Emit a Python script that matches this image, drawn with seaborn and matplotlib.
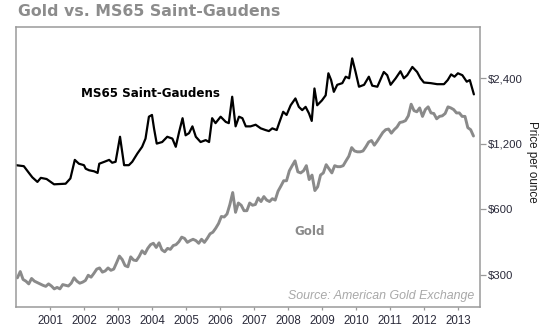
import matplotlib
matplotlib.use("Agg")
import matplotlib.pyplot as plt
import matplotlib.ticker as mticker
import numpy as np
import pandas as pd
import seaborn as sns

# MS65 Saint-Gaudens double eagle prices (decimal year, USD)
ms_year = [2000.00, 2000.23, 2000.38, 2000.48, 2000.63, 2000.73, 2000.90, 2001.12, 2001.46, 2001.60,
           2001.73, 2001.85, 2002.00, 2002.05, 2002.15, 2002.30, 2002.40, 2002.45, 2002.60, 2002.74,
           2002.83, 2002.93, 2003.06, 2003.18, 2003.32, 2003.42, 2003.57, 2003.71, 2003.81, 2003.91,
           2004.00, 2004.06, 2004.14, 2004.30, 2004.45, 2004.60, 2004.70, 2004.80, 2004.90, 2004.99,
           2005.09, 2005.19, 2005.29, 2005.43, 2005.58, 2005.68, 2005.77, 2005.87, 2006.02, 2006.17,
           2006.26, 2006.36, 2006.46, 2006.56, 2006.66, 2006.76, 2006.90, 2007.05, 2007.20, 2007.34,
           2007.44, 2007.54, 2007.67, 2007.74, 2007.86, 2007.96, 2008.08, 2008.22, 2008.32, 2008.42,
           2008.52, 2008.62, 2008.70, 2008.78, 2008.86, 2009.00, 2009.11, 2009.19, 2009.27, 2009.35,
           2009.45, 2009.60, 2009.70, 2009.80, 2009.89, 2009.99, 2010.09, 2010.24, 2010.38, 2010.48,
           2010.63, 2010.82, 2010.92, 2011.02, 2011.17, 2011.31, 2011.41, 2011.51, 2011.66, 2011.80,
           2011.90, 2012.00, 2012.20, 2012.39, 2012.59, 2012.70, 2012.80, 2012.90, 2013.00, 2013.13,
           2013.26, 2013.35, 2013.47]
ms_price = [955, 945, 880, 840, 800, 835, 825, 780, 785, 830,
            1010, 970, 955, 920, 905, 895, 880, 970, 990, 1010,
            980, 990, 1290, 955, 955, 990, 1080, 1160, 1265, 1595,
            1625, 1410, 1200, 1220, 1290, 1265, 1160, 1360, 1570, 1310,
            1340, 1440, 1290, 1220, 1245, 1220, 1570, 1490, 1595, 1510,
            1490, 1970, 1440, 1595, 1570, 1440, 1440, 1465, 1410, 1385,
            1370, 1410, 1385, 1490, 1680, 1625, 1800, 1935, 1770, 1710,
            1770, 1650, 1525, 2150, 1800, 1895, 2000, 2525, 2350, 2075,
            2235, 2275, 2435, 2395, 2955, 2560, 2190, 2235, 2435, 2215,
            2190, 2560, 2475, 2235, 2395, 2580, 2395, 2475, 2700, 2560,
            2395, 2290, 2275, 2250, 2250, 2350, 2495, 2435, 2525, 2475,
            2310, 2350, 2020]

# Monthly gold price, January 2000 through June 2013 (USD per ounce)
gold_first_year = 2000
gold_price = [
    290, 310, 285, 280, 272, 288, 280, 276, 272, 268, 265, 272,
    266, 258, 262, 258, 270, 268, 266, 274, 290, 280, 274, 277,
    282, 298, 292, 304, 318, 322, 308, 312, 322, 314, 318, 340,
    365, 352, 330, 326, 362, 350, 348, 364, 386, 374, 396, 412,
    418, 400, 420, 390, 382, 396, 392, 408, 412, 425, 446, 440,
    422, 430, 436, 430, 418, 436, 422, 440, 462, 470, 490, 515,
    555, 552, 570, 630, 715, 580, 640, 625, 590, 590, 640, 625,
    630, 675, 650, 685, 660, 650, 670, 660, 725, 765, 810, 810,
    900, 950, 1000, 890, 880, 900, 950, 820, 860, 730, 760, 860,
    880, 960, 920, 880, 950, 940, 940, 950, 1000, 1050, 1150, 1110,
    1100, 1100, 1110, 1160, 1220, 1240, 1180, 1230, 1290, 1350, 1390, 1400,
    1340, 1390, 1430, 1500, 1510, 1530, 1610, 1820, 1700, 1680, 1750, 1600,
    1720, 1770, 1660, 1650, 1560, 1600, 1610, 1650, 1770, 1750, 1720, 1660,
    1660, 1600, 1600, 1420, 1390, 1300,
]

year_ticks = list(range(2001, 2014))
price_ticks = [300, 600, 1200, 2400]
price_tick_labels = ["$300", "$600", "$1,200", "$2,400"]

ms_df = pd.DataFrame({"year": ms_year, "price": ms_price})
gold_df = pd.DataFrame({
    "year": gold_first_year + (np.arange(len(gold_price)) + 0.5) / 12.0,
    "price": gold_price,
})

sns.set_theme(style="white")
plt.rcParams["font.family"] = ["Liberation Sans", "DejaVu Sans"]

fig = plt.figure(figsize=(5.44, 3.32), dpi=100)
ax = fig.add_axes([16 / 544, 1 - 307 / 332, (480 - 16) / 544, (307 - 27) / 332])

sns.lineplot(data=gold_df, x="year", y="price", ax=ax, color="#8a8a8a", linewidth=2.1)
sns.lineplot(data=ms_df, x="year", y="price", ax=ax, color="#000000", linewidth=1.6)

ax.set_yscale("log")
ax.set_ylim(213, 4120)
ax.set_xlim(2000.0, 2013.65)

ax.yaxis.tick_right()
ax.yaxis.set_major_locator(mticker.FixedLocator(price_ticks))
ax.yaxis.set_major_formatter(mticker.FixedFormatter(price_tick_labels))
ax.yaxis.set_minor_locator(mticker.NullLocator())
ax.set_xticks(year_ticks)
ax.set_xticklabels([str(y) for y in year_ticks])

ax.tick_params(axis="y", which="major", direction="out", length=4, width=0.9,
               color="#999999", pad=1.5, labelsize=8.2, labelcolor="#2a2a3a",
               right=True, left=False)
ax.tick_params(axis="x", which="major", direction="out", length=2.5, width=0.9,
               color="#999999", pad=3, labelsize=8.3, labelcolor="#2a2a3a", bottom=True)

for spine in ax.spines.values():
    spine.set_visible(True)
    spine.set_color("#9a9a9a")
    spine.set_linewidth(1.1)

ax.set_xlabel("")
ax.set_ylabel("")
ax.grid(False)

ax.text(0.14, 0.764, "MS65 Saint-Gaudens", transform=ax.transAxes, ha="left", va="center",
        fontsize=8.6, fontweight="bold", color="#000000", family="DejaVu Sans")
ax.text(0.601, 0.268, "Gold", transform=ax.transAxes, ha="left", va="center",
        fontsize=8.6, fontweight="bold", color="#8a8a8a", family="DejaVu Sans")
ax.text(0.987, 0.039, "Source: American Gold Exchange", transform=ax.transAxes,
        ha="right", va="center", fontsize=8.9, style="italic", color="#a8a8a8")

fig.text(18 / 544, 1 - 12 / 332, "Gold vs. MS65 Saint-Gaudens", ha="left", va="center",
         fontsize=11.3, fontweight="bold", color="#8c8c8c", family="DejaVu Sans")
fig.text(532 / 544, 1 - 162 / 332, "Price per ounce", rotation=270, ha="center", va="center",
         fontsize=8.4, color="#1a1a1a")

fig.savefig("out.png", dpi=100, facecolor="white")
